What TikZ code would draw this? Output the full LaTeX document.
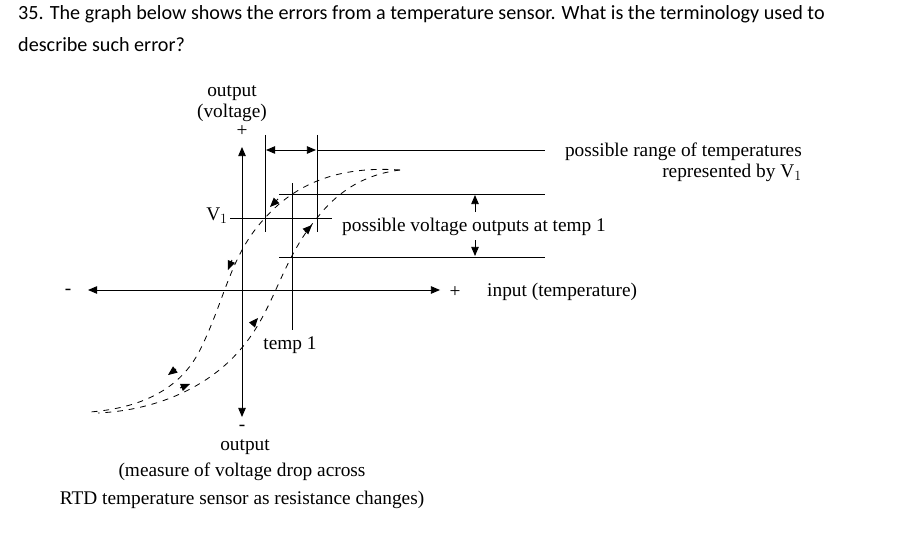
\documentclass[tikz,border=0pt]{standalone}
\usepackage{fontspec}
\setmainfont{Liberation Serif}
\newfontfamily\titlefont{Carlito}
\usetikzlibrary{calc,positioning,arrows}
\begin{document}
\begin{tikzpicture}[x=0.03cm, y=-0.03cm, ln/.style={line width=0.8pt}, crv/.style={dashed, dash pattern=on 5pt off 5pt, line width=0.7pt}, lbl/.style={font=\fontsize{16.5}{24}\selectfont, inner sep=0pt}, myto/.style={-triangle 45, line width=0.8pt}, tip/.style={-triangle 45, line width=0.8pt}]
\useasboundingbox (0,0) rectangle (901,537);
% question
\node[anchor=west, inner sep=0pt, font=\titlefont\fontsize{17.2}{20}\selectfont] (q1) at (18,14) {35. The graph below shows the errors from a temperature sensor. What is the terminology used to};
\node[anchor=west, inner sep=0pt, font=\titlefont\fontsize{17.2}{20}\selectfont] (q2) at (18,45) {describe such error?};
% axes
\coordinate (yt) at (242,147); \coordinate (yb) at (242,417);
\coordinate (xl) at (88,290); \coordinate (xr) at (440,290);
\draw[myto] (242,290) -- (yt);
\draw[myto] (242,290) -- (yb);
\draw[myto] (242,290) -- (xl);
\draw[myto] (242,290) -- (xr);
\node[lbl] (pl) at (455,292) {+};
\node[lbl] (mn) at (68,292) {-};
\node[lbl] (pt) at (242,131) {+};
\node[lbl] (mb) at (242,428) {-};
% V1 and temp 1 lines
\coordinate (va) at (230,218); \coordinate (vb) at (332,218);
\draw[ln] (va) -- (vb);
\foreach \x in {265,317}{\draw[ln] (\x,135) -- (\x,232);}
\draw[ln] (292,183) -- (292,330);
\foreach \y in {194,257}{\draw[ln] (279,\y) -- (545,\y);}
\draw[ln] (317,150) -- (545,150);
\draw[myto] (291,150) -- (266,150);
\draw[myto] (291,150) -- (316,150);
\draw[myto] (475,212) -- (475,195);
\draw[myto] (475,240) -- (475,256);
% hysteresis curves
\draw[crv] (400,170) .. controls (330,165) and (290,190) .. (265,218) .. controls (230,255) and (225,300) .. (200,350) .. controls (180,390) and (140,408) .. (90,412);
\draw[crv] (400,170) .. controls (360,175) and (335,195) .. (317,218) .. controls (280,262) and (275,310) .. (240,350) .. controls (210,385) and (160,410) .. (98,413);
\foreach \a/\b in {{(232,260)}/{(228,270)}, {(278,199)}/{(270,207)}, {(176,369)}/{(168,375)}}{\draw[tip] \a -- \b;}
\foreach \a/\b in {{(305,232)}/{(312,225)}, {(252,325)}/{(258,318)}, {(180,388)}/{(190,384)}}{\draw[tip] \a -- \b;}
% labels
\node[lbl, align=center] (outv) at (232,104) {output\\[-6pt](voltage)};
\node[lbl] (v1) at (217,216) {V$_1$};
\node[lbl] (t1) at (290,345) {temp 1};
\node[lbl, anchor=west] (pvo) at (342,227) {possible voltage outputs at temp 1};
\node[lbl, anchor=west] (inp) at (487,292) {input (temperature)};
\node[lbl, align=right, anchor=north east] (rng) at (802,143) {possible range of temperatures\\[-6pt]represented by V$_1$};
\node[lbl] (outb) at (245,447) {output};
\node[lbl, align=center] (meas) at (242,486) {(measure of voltage drop across\\RTD temperature sensor as resistance changes)};
\end{tikzpicture}
\end{document}
